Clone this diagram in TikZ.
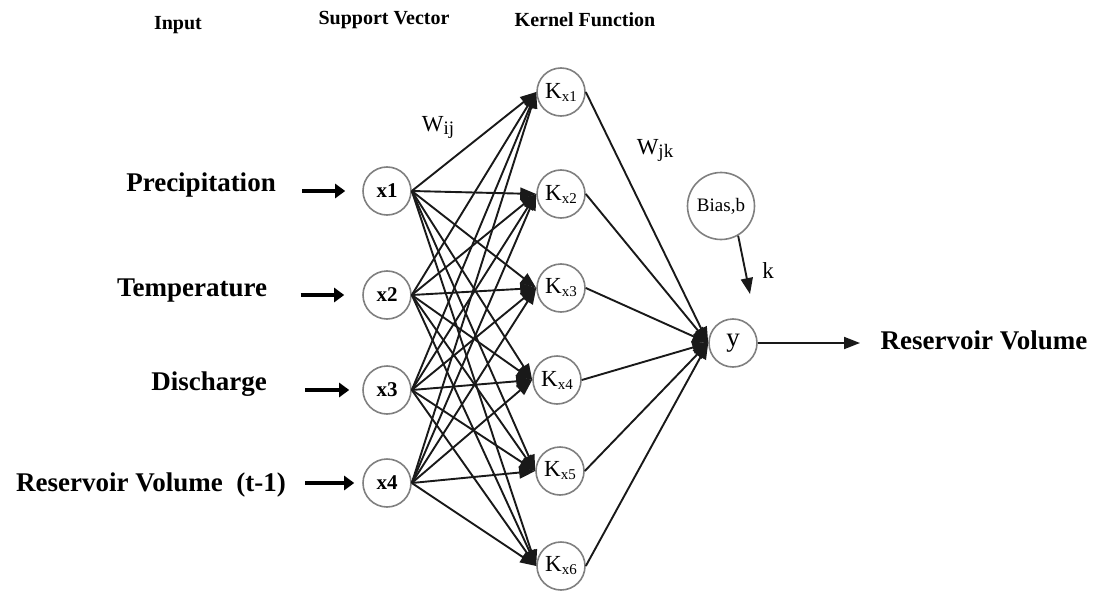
\documentclass[tikz,border=0pt]{standalone}
\usepackage{fontspec}
\setmainfont{Liberation Serif}
\usetikzlibrary{arrows.meta}
\begin{document}
\begin{tikzpicture}[x=1pt,y=-1pt,
  neuron/.style={circle,draw=black!50,line width=1.6pt,minimum size=48pt,inner sep=0pt,fill=white},
  xlab/.style={font=\fontsize{21}{22}\selectfont\bfseries},
  klab/.style={font=\fontsize{23}{24}\selectfont},
  conn/.style={line width=1.9pt,draw=black!90,-{Triangle[length=16pt,width=12pt]}},
  inarrow/.style={line width=4.5pt,-{Triangle[length=10pt,width=14pt]}},
  title/.style={font=\fontsize{20}{24}\selectfont\bfseries},
  inlabel/.style={font=\fontsize{27}{30}\selectfont\bfseries},
  plain/.style={font=\fontsize{23}{24}\selectfont},
]
\useasboundingbox (0,0) rectangle (1097,591);
\fill[white] (0,0) rectangle (1097,591);

% titles
\node[title] (tin) at (178,25) {Input};
\node[title] (tsv) at (384,20) {Support Vector};
\node[title] (tkf) at (585,20) {Kernel Function};

% weights labels
\node[plain] (wij) at (438,127) {W\raisebox{-3pt}{\fontsize{19}{19}\selectfont ij}};
\node[plain] (wjk) at (655,150) {W\raisebox{-3pt}{\fontsize{19}{19}\selectfont jk}};

% input nodes
\node[neuron,xlab] (x1) at (387,191) {x1};
\node[neuron,xlab] (x2) at (387,295) {x2};
\node[neuron,xlab] (x3) at (387,390) {x3};
\node[neuron,xlab] (x4) at (387,483) {x4};

% kernel nodes
\newcommand{\kx}[1]{K{\fontsize{15}{15}\selectfont\raisebox{-3pt}{x#1}}}
\node[neuron,klab] (k1) at (561,92) {\kx{1}};
\node[neuron,klab] (k2) at (561,194) {\kx{2}};
\node[neuron,klab] (k3) at (561,288) {\kx{3}};
\node[neuron,klab] (k4) at (557,380) {\kx{4}};
\node[neuron,klab] (k5) at (560,471) {\kx{5}};
\node[neuron,klab] (k6) at (561,566) {\kx{6}};

% output neuron and bias
\node[neuron,font=\fontsize{27}{28}\selectfont] (y) at (733,343) {y};
\node[neuron,minimum size=67pt,font=\fontsize{19}{20}\selectfont] (bias) at (721,206) {Bias,b};
\coordinate (kend) at (750,294);
\node[plain] (k) at (768,271) {k};

% input labels
\node[inlabel] (prec) at (201,185) {Precipitation};
\node[inlabel] (temp) at (192,291) {Temperature};
\node[inlabel] (disc) at (209,384) {Discharge};
\node[inlabel] (resv) at (151,485) {Reservoir Volume\ \ (t-1)};
\node[inlabel,anchor=west] (out) at (877,340) {Reservoir Volume};

% input arrows
\draw[inarrow,shorten <=23pt,shorten >=17pt] (prec.east |- x1) -- (x1.west);
\draw[inarrow,shorten <=30pt,shorten >=18pt] (temp.east |- x2) -- (x2.west);
\draw[inarrow,shorten <=35pt,shorten >=13pt] (disc.east |- x3) -- (x3.west);
\draw[inarrow,shorten <=16pt,shorten >=8pt] (resv.east |- x4) -- (x4.west);

% x -> K connections
\foreach \i in {1,...,4}{
  \foreach \j in {1,...,6}{
    \draw[conn] (x\i.east) -- (k\j.west);
  }
}
% K -> y connections
\foreach \j in {1,...,6}{
  \draw[conn] (k\j.east) -- (y.west);
}
% bias arrow
\draw[conn] (bias.-60) -- (kend);
% output arrow
\draw[conn,shorten >=17pt] (y.east) -- (out.west |- y.east);
\end{tikzpicture}
\end{document}
